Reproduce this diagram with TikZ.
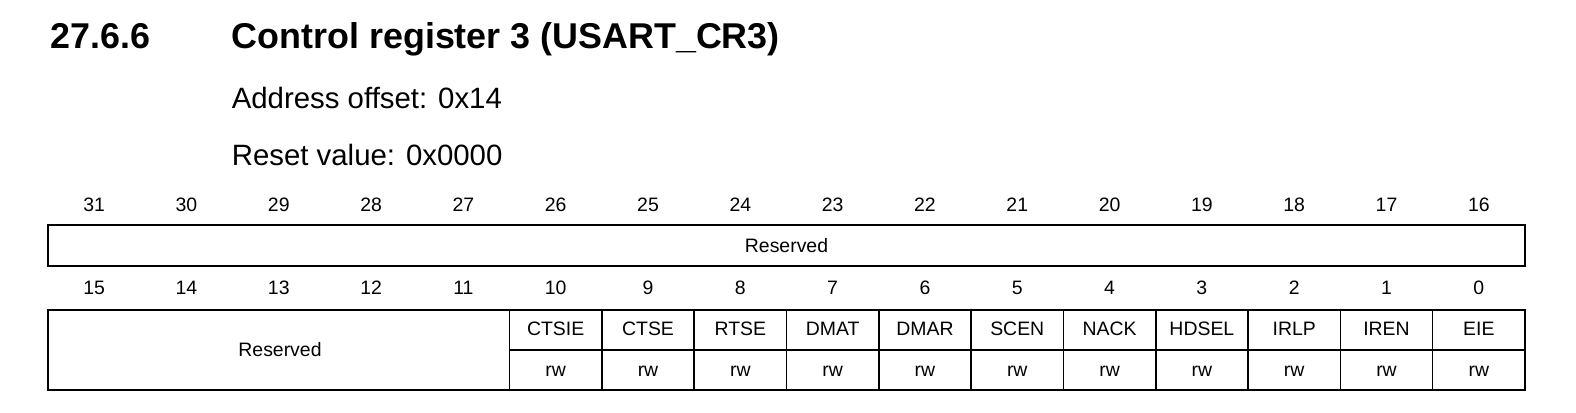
\documentclass[tikz,border=0pt]{standalone}
\usepackage{fontspec}
\setmainfont{Liberation Sans}
\begin{document}
\begin{tikzpicture}[x=1bp,y=-1bp,line width=1.6bp,
  every node/.style={inner sep=0pt},
  bitnum/.style={font=\fontsize{19.5}{22}\selectfont},
  field/.style={font=\fontsize{19.5}{22}\selectfont}]
  \useasboundingbox (0,0) rectangle (1576,412);
  % -=-=-=-=- TITLE -=-=-=-=-
  \node[anchor=base west,font=\fontsize{36}{40}\selectfont\bfseries] (num) at (50,48) {27.6.6};
  \node[anchor=base west,font=\fontsize{36}{40}\selectfont\bfseries] (title) at (231,48) {Control register 3 (USART\_CR3)};
  \node[anchor=base west,font=\fontsize{29.5}{34}\selectfont] (addr) at (231,108) {Address offset: 0x14};
  \node[anchor=base west,font=\fontsize{29.5}{34}\selectfont] (reset) at (231,165) {Reset value: 0x0000};
  % -=-=-=-=- BIT NUMBERS -=-=-=-=-
  \foreach \i in {0,...,15}{
    \pgfmathtruncatemacro{\hi}{31-\i}
    \pgfmathtruncatemacro{\lo}{15-\i}
    \node[bitnum] (hi\hi) at (48+92.31*\i+46.15,205) {\hi};
    \node[bitnum] (lo\lo) at (48+92.31*\i+46.15,288) {\lo};
  }
  % -=-=-=-=- UPPER HALF -=-=-=-=-
  \draw (48,225) rectangle (1525,266);
  \node[field] (resv1) at (786.5,245.5) {Reserved};
  % -=-=-=-=- LOWER HALF -=-=-=-=-
  \draw (48,310) rectangle (1525,390);
  \draw (509.5,350) -- (1525,350);
  \node[field] (resv2) at (280,350) {Reserved};
  \foreach \name [count=\k from 5] in {CTSIE,CTSE,RTSE,DMAT,DMAR,SCEN,NACK,HDSEL,IRLP,IREN,EIE}{
    \draw (48+92.31*\k,310) -- (48+92.31*\k,390);
    \node[field] (f\k) at (48+92.31*\k+46.15,329) {\name};
    \node[field] (rw\k) at (48+92.31*\k+46.15,371) {rw};
  }
\end{tikzpicture}
\end{document}
